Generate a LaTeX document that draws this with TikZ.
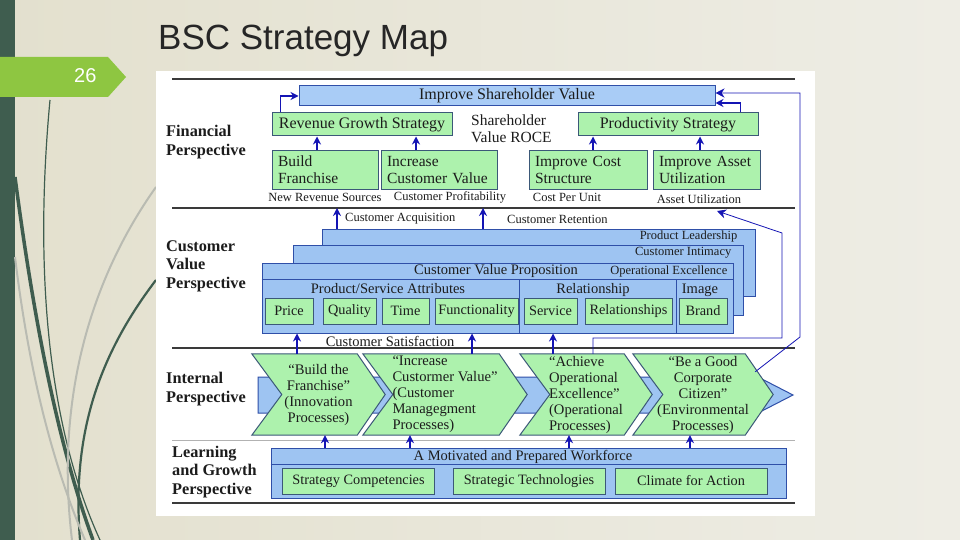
\documentclass[tikz,border=0pt]{standalone}
\usepackage{fontspec}
\setmainfont{Liberation Serif}
\newfontfamily\slidefont{Liberation Sans}
\usepackage{xcolor}
\definecolor{cBlue}{HTML}{9EC4F2}
\definecolor{cBlueTop}{HTML}{A9CCF6}
\definecolor{cGreen}{HTML}{ADF2AD}
\definecolor{cEdgeBlue}{HTML}{2F4FA8}
\definecolor{cEdgeGreen}{HTML}{3B5878}
\definecolor{cArrow}{HTML}{1414B4}
\definecolor{cFeed}{HTML}{3C3C9C}
\definecolor{cRule}{HTML}{3A3A3A}
\definecolor{cInk}{HTML}{1C1C1C}
\definecolor{cSlideL}{HTML}{E3E0CE}
\definecolor{cSlideR}{HTML}{EEEDE5}
\definecolor{cBar}{HTML}{3F5D4F}
\definecolor{cTab}{HTML}{8EC641}
\definecolor{cCurveLight}{HTML}{B9BBB2}
\usepackage{tikz}
\usetikzlibrary{positioning,arrows.meta,calc,backgrounds}
\pgfdeclarelayer{back}
\pgfsetlayers{back,background,main}
\tikzset{
  box-top/.style={draw=cEdgeBlue,fill=cBlueTop,line width=1pt,minimum height=20pt,
    inner xsep=2pt,inner ysep=1pt,font=\fontsize{16}{18}\selectfont,text=cInk},
  box-fin/.style={draw=cEdgeGreen,fill=cGreen,line width=1pt,minimum height=23pt,
    inner xsep=2pt,inner ysep=1pt,font=\fontsize{16}{18}\selectfont,text=cInk},
  box-fin2/.style={box-fin,minimum height=38pt,align=left,inner xsep=6pt,
    font=\fontsize{15.5}{17}\selectfont},
  box-blue/.style={draw=cEdgeBlue,fill=cBlue,line width=1pt,inner sep=0pt},
  box-line/.style={draw=cEdgeBlue,line width=1pt},
  box-green/.style={draw=cEdgeGreen,fill=cGreen,line width=1pt,minimum height=26pt,
    inner xsep=2pt,inner ysep=1pt,font=\fontsize{14.3}{16}\selectfont,text=cInk},
  chev/.style={minimum height=81pt,inner sep=0pt,align=center,
    font=\fontsize{14.6}{16}\selectfont,text=cInk},
  chev-shape/.style={draw=cEdgeGreen,fill=cGreen,line width=1pt},
  band/.style={draw=cEdgeBlue,fill=cBlue,line width=1pt},
  lbl-persp/.style={anchor=west,align=left,inner sep=0pt,
    font=\bfseries\fontsize{16.3}{18.5}\selectfont,text=cInk},
  lbl-mid/.style={inner sep=0pt,font=\fontsize{14.5}{16}\selectfont,text=cInk},
  lbl-small/.style={inner sep=0pt,font=\fontsize{12.5}{14}\selectfont,text=cInk},
  arrow/.style={-{Stealth[length=8pt,width=8pt]},line width=1.2pt,draw=cArrow},
  arrow-feed/.style={-{Stealth[length=9pt,width=9pt]},line width=0.8pt,draw=cFeed,
    color=cArrow},
  rule/.style={line width=1.4pt,draw=cRule},
  rule-light/.style={line width=0.8pt,draw=black!30},
}
\begin{document}
\begin{tikzpicture}[x=1pt,y=-1pt]
  \useasboundingbox (0,0) rectangle (960,540);

  % slide and white picture area
  \begin{pgfonlayer}{back}
    \shade[left color=cSlideL,right color=cSlideR] (0,0) rectangle (960,540);
    \fill[cBar] (0,0) rectangle (15,540);
    \draw[cBar,line width=1.2pt] (50,100) .. controls (35,260) and (45,420) .. (100,540);
    \draw[cBar,line width=3.5pt] (15,177) .. controls (35,330) and (60,450) .. (93,540);
    \draw[cCurveLight,line width=2pt] (156,187) .. controls (90,280) and (55,400) .. (72,540);
    \draw[cBar,line width=2.2pt] (156,280) .. controls (95,360) and (72,440) .. (80,540);
    \draw[cCurveLight,line width=2pt] (15,257) .. controls (30,380) and (55,470) .. (85,540);
    \fill[cTab] (0,57) -- (108,57) -- (126,77) -- (108,97) -- (0,97) -- cycle;
    \fill[white] (156,71) rectangle (815,516);
    \draw[band] (258,377) -- (758,377) -- (793,395) -- (758,413) -- (258,413) -- cycle;
  \end{pgfonlayer}

  \node[anchor=base west,inner sep=0pt,font=\slidefont\fontsize{35}{40}\selectfont,
    text=black!85] (title) at (158,50) {BSC Strategy Map};
  \node[anchor=base west,inner sep=0pt,font=\slidefont\fontsize{20}{24}\selectfont,
    text=white] (pageNo) at (74,83) {26};

  % perspective rules
  \coordinate (sepTop) at (172,79);
  \coordinate (sepFin) at (172,208);
  \coordinate (sepCus) at (172,348);
  \coordinate (sepInt) at (172,440);
  \coordinate (sepBot) at (172,503);
  \foreach \s in {sepTop,sepFin,sepCus,sepBot}
    \draw[rule] (\s) -- ++(623,0);
  \draw[rule-light] (sepInt) -- ++(623,0);

  \node[lbl-persp] (finLbl) at (166,142) {Financial\\Perspective};
  \node[lbl-persp] (cusLbl) at (166,266) {Customer\\Value\\Perspective};
  \node[lbl-persp] (intLbl) at (166,389) {Internal\\Perspective};
  \node[lbl-persp] (lgLbl) at (172,472) {Learning\\and Growth\\Perspective};

  % financial
  \node[box-top,minimum width=416pt] (isv) at (507,96) {Improve Shareholder Value};
  \node[box-fin,minimum width=180pt] (rgs) at (362,124.5) {Revenue Growth Strategy};
  \node[box-fin,minimum width=180pt] (prs) at (668,124.5) {Productivity Strategy};
  \node[lbl-mid,anchor=west,align=left,font=\fontsize{15.5}{17}\selectfont] (roce)
    at (471,128.5) {Shareholder\\Value ROCE};
  \node[box-fin2,text width=94pt] (bf) at (325,170) {Build\\Franchise};
  \node[box-fin2,text width=104pt] (icv) at (439,170) {Increase\\Customer Value};
  \node[box-fin2,text width=106pt] (ics) at (588,170) {Improve Cost\\Structure};
  \node[box-fin2,text width=95pt] (iau) at (706.5,170) {Improve Asset\\Utilization};
  \node[lbl-small] (nrs) at (325,197) {New Revenue Sources};
  \node[lbl-small] (cpf) at (450,197) {Customer Profitability};
  \node[lbl-small] (cpu) at (567,197) {Cost Per Unit};
  \node[lbl-small] (aut) at (699,199) {Asset Utilization};

  \foreach \f/\t/\dx in {bf/rgs/-8,icv/rgs/-23,ics/prs/5,iau/prs/-6.5}
    \draw[arrow] ($(\f.north)+(\dx,0)$) -- ($(\f.north |- \t.south)+(\dx,0)$);
  \draw[arrow] ($(rgs.north west)+(9,0)$) |- (isv.west);
  \draw[arrow] ($(prs.north east)+(-18,0)$) |- ([yshift=-7pt]isv.east);

  % customer value proposition stack
  \node[box-blue,minimum width=433pt,minimum height=67pt] (cpl) at (538.5,262.5) {};
  \node[lbl-small,anchor=east] (plTxt) at ($(cpl.north east)+(-18,8)$) {Product Leadership};
  \node[box-blue,minimum width=450pt,minimum height=70pt] (cci) at (518,280) {};
  \node[lbl-small,anchor=east] (ciTxt) at ($(cci.north east)+(-12,8)$) {Customer Intimacy};
  \node[box-blue,minimum width=471pt,minimum height=70pt] (cvp) at (497.5,298) {};
  \node[lbl-small,anchor=east] (oeTxt) at ($(cvp.north east)+(-6,9)$) {Operational Excellence};
  \node[lbl-mid] (cvpTxt) at ($(cvp.north)+(-1.5,8.5)$) {Customer Value Proposition};
  \draw[box-line] ($(cvp.north west)+(0,17)$) -- ($(cvp.north east)+(0,17)$);
  \foreach \dx in {258,415}
    \draw[box-line] ($(cvp.north west)+(\dx,17)$) -- ($(cvp.south west)+(\dx,0)$);
  \node[lbl-mid] (psaTxt) at (388,289) {Product/Service Attributes};
  \node[lbl-mid] (relTxt) at (593,290) {Relationship};
  \node[lbl-mid] (imgTxt) at (700,290) {Image};
  \foreach \n/\x/\w/\t in {price/289/48/Price,quality/349.5/53/Quality,time/405.5/47/Time,
      func/476.5/83/Functionality,service/550.5/53/Service,
      rels/628.5/87/Relationships,brand/703/48/Brand}
    \node[box-green,minimum width=\w pt] (\n) at (\x,311) {\t};

  \foreach \dx in {-201.5,-55.5}
    \draw[arrow] ($(cpl.north)+(\dx,0)$) -- ($(cpl.north |- sepFin)+(\dx,0)$);
  \node[lbl-small,anchor=west] (acqTxt) at (345,219) {Customer Acquisition};
  \node[lbl-small,anchor=west] (retTxt) at (507,219) {Customer Retention};
  \node[lbl-mid] (satTxt) at (390,341) {Customer Satisfaction};

  % internal processes
  \node[chev,minimum width=133pt] (c1) at (318.5,394.5)
    {“Build the\\Franchise”\\(Innovation\\Processes)};
  \node[chev,minimum width=164pt,align=left] (c2) at (445,394.5)
    {“Increase\\Custormer Value”\\(Customer\\Managegment\\Processes)};
  \node[chev,minimum width=132pt,align=left] (c3) at (586,394.5)
    {“Achieve\\Operational\\Excellence”\\(Operational\\Processes)};
  \node[chev,minimum width=140pt] (c4) at (703,394.5)
    {“Be a Good\\Corporate\\Citizen”\\(Environmental\\Processes)};
  \begin{scope}[on background layer]
    \foreach \c in {c1,c2,c3,c4}
      \draw[chev-shape] (\c.north west) -- ([xshift=-28pt]\c.north east) -- (\c.east)
        -- ([xshift=-28pt]\c.south east) -- (\c.south west) -- ([xshift=30pt]\c.west)
        -- cycle;
  \end{scope}

  \foreach \c/\dx in {c1/-21.5,c2/27,c3/-33}
    \draw[arrow] ($(\c.north)+(\dx,0)$) -- ($(\c.north |- cvp.south)+(\dx,0)$);

  % feedback loops on the right
  \coordinate (fbA) at (800,337);
  \coordinate (fbB) at (782,338);
  \coordinate (fbC) at (782,233);
  \coordinate (auTip) at (717,211);
  \draw[arrow-feed] ($(c4.north east)+(-18,18)$) -- (fbA) |- ([yshift=3pt]isv.east);
  \draw[arrow-feed] ($(c3.north)+(7,0)$) |- (fbB) -- (fbC) -- (auTip);

  % learning and growth
  \node[box-blue,minimum width=515pt,minimum height=50pt] (lgw) at (528.5,473) {};
  \draw[box-line] ($(lgw.north west)+(0,17)$) -- ($(lgw.north east)+(0,17)$);
  \node[lbl-mid] (lgwTxt) at (523,457) {A Motivated and Prepared Workforce};
  \foreach \n/\x/\t in {sc/358.5/Strategy Competencies,st/529/Strategic Technologies,
      cfa/691/Climate for Action}
    \node[box-green,minimum width=152pt] (\n) at (\x,481) {\t};

  \foreach \c/\dx in {c1/6.5,c2/-35,c3/-17,c4/-13}
    \draw[arrow] ($(\c.south |- lgw.north)+(\dx,0)$) -- ($(\c.south)+(\dx,0)$);
\end{tikzpicture}
\end{document}
